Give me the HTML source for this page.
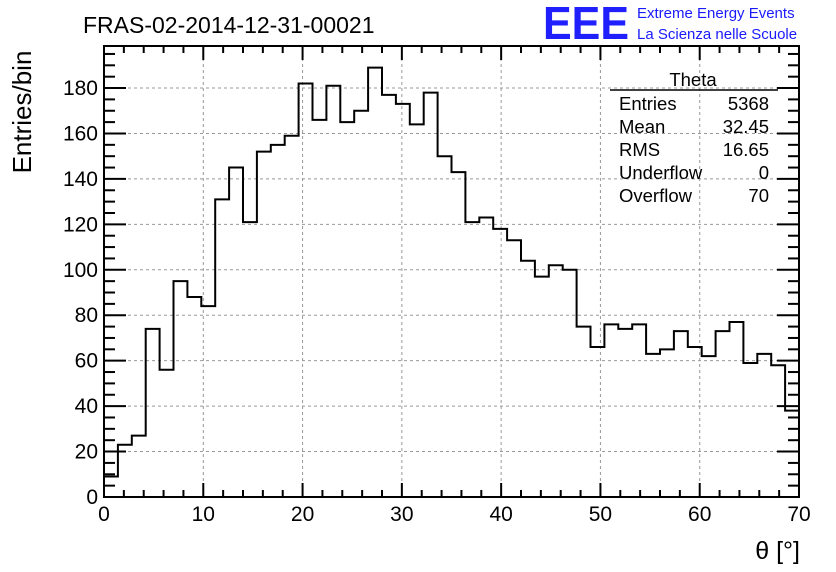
<!DOCTYPE html>
<html><head><meta charset="utf-8"><style>
body{margin:0;background:#fff;}
svg{display:block;font-family:"Liberation Sans",sans-serif;}
</style></head><body>
<svg id="c" width="836" height="572" xmlns="http://www.w3.org/2000/svg">
<text x="83" y="33" font-size="23">FRAS-02-2014-12-31-00021</text>
<text x="543" y="39" font-size="46" font-weight="bold" fill="#2020ff" textLength="86" lengthAdjust="spacingAndGlyphs">EEE</text>
<text x="637" y="18" font-size="15" fill="#1a1aff">Extreme Energy Events</text>
<text x="637" y="39" font-size="15" fill="#1a1aff">La Scienza nelle Scuole</text>
<g id="grid"></g>
<g id="hist"></g>
<g id="axes"></g>
<text x="31" y="112" font-size="26" transform="rotate(-90 31 112)" text-anchor="middle">Entries/bin</text>
<text x="800" y="559" font-size="25" text-anchor="end">θ [°]</text>
<g font-size="18.5">
<text x="693" y="86" text-anchor="middle">Theta</text>
<line x1="610" y1="90" x2="778" y2="90" stroke="#000" stroke-width="1.5"/>
<text x="619" y="110">Entries</text><text x="769" y="110" text-anchor="end">5368</text>
<text x="619" y="133">Mean</text><text x="769" y="133" text-anchor="end">32.45</text>
<text x="619" y="156">RMS</text><text x="769" y="156" text-anchor="end">16.65</text>
<text x="619" y="179">Underflow</text><text x="769" y="179" text-anchor="end">0</text>
<text x="619" y="202">Overflow</text><text x="769" y="202" text-anchor="end">70</text>
</g>
</svg>
<script>
const counts=[9,23,27,74,56,95,88,84,131,145,121,152,155,159,182,166,181,165,170,189,177,173,164,178,150,143,121,123,118,113,104,97,102,100,75,66,76,74,76,63,65,73,66,62,73,77,59,63,58,38];
const xTicks=[0,10,20,30,40,50,60,70];
const yTicks=[0,20,40,60,80,100,120,140,160,180];
const xMin=0,xMax=70,yMin=0,yMax=198.5;
const L=104,R=799,T=46,B=497;
const NS="http://www.w3.org/2000/svg";
const X=v=>L+(v-xMin)/(xMax-xMin)*(R-L);
const Y=v=>B-(v-yMin)/(yMax-yMin)*(B-T);
function mk(t,a,p){const e=document.createElementNS(NS,t);for(const k in a)e.setAttribute(k,a[k]);p.appendChild(e);return e;}
const grid=document.getElementById('grid'),axes=document.getElementById('axes'),hist=document.getElementById('hist');
xTicks.forEach(v=>{if(v>xMin&&v<xMax){const l=mk('line',{x1:X(v),x2:X(v),y1:T,y2:B,stroke:'#999','stroke-dasharray':'3,3'},grid);

}});
yTicks.forEach(v=>{if(v>yMin){const l=mk('line',{x1:L,x2:R,y1:Y(v),y2:Y(v),stroke:'#999','stroke-dasharray':'3,3'},grid);

}});
const w=(xMax-xMin)/counts.length;
let d='M'+X(xMin)+','+Y(0);
counts.forEach((c,i)=>{d+=' L'+X(xMin+i*w)+','+Y(c)+' L'+X(xMin+(i+1)*w)+','+Y(c);});
d+=' L'+X(xMax)+','+Y(0);
const p=mk('path',{d:d,fill:'none',stroke:'#000','stroke-width':2},hist);


const fr=mk('rect',{x:L,y:T,width:R-L,height:B-T,fill:'none',stroke:'#000','stroke-width':2},axes);


for(let v=xMin;v<=xMax;v+=2){const len=v%10===0?14:7;
mk('line',{x1:X(v),x2:X(v),y1:B,y2:B-len,stroke:'#000','stroke-width':2},axes);
mk('line',{x1:X(v),x2:X(v),y1:T,y2:T+len,stroke:'#000','stroke-width':2},axes);}
for(let v=yMin;v<=yMax;v+=5){const len=v%20===0?22:11;
mk('line',{x1:L,x2:L+len,y1:Y(v),y2:Y(v),stroke:'#000','stroke-width':2},axes);
mk('line',{x1:R,x2:R-len,y1:Y(v),y2:Y(v),stroke:'#000','stroke-width':2},axes);}
xTicks.forEach(v=>{const t=mk('text',{x:X(v),y:B+24,'font-size':21,'text-anchor':'middle'},axes);t.textContent=v;

});
yTicks.forEach(v=>{const t=mk('text',{x:L-6,y:Y(v)+7,'font-size':21,'text-anchor':'end'},axes);t.textContent=v;

});
</script>
</body></html>
